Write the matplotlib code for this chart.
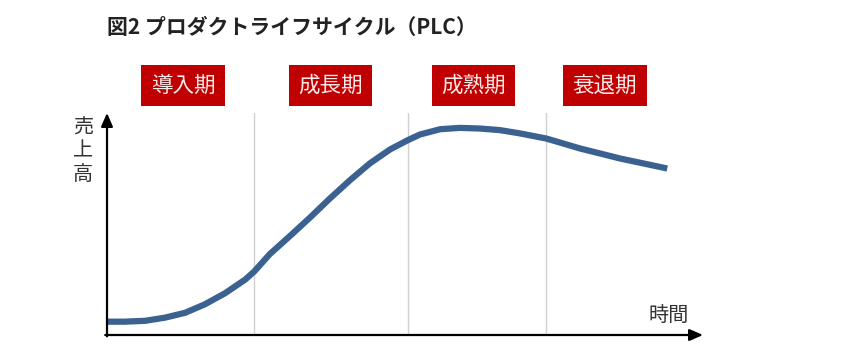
import numpy as np
import matplotlib.pyplot as plt

plt.rcParams['font.family'] = ['Noto Sans CJK JP', 'DejaVu Sans']

# Datos (tiempo 0-100, ventas 0-100)
tiempo = [0, 3.0, 6.4, 9.7, 13.1, 16.4, 19.8, 23.2, 24.7, 27.3, 30.7, 34.1, 37.4,
          40.8, 44.1, 47.5, 50.5, 52.5, 55.9, 59.2, 62.6, 65.9, 69.3, 73.7, 79.4,
          86.1, 94.0]
ventas = [6.0, 6.0, 6.4, 7.8, 10.0, 13.8, 18.8, 25.0, 28.6, 36.4, 44.6, 53.0, 61.5,
          69.8, 77.3, 83.6, 87.8, 90.3, 92.7, 93.3, 93.0, 92.3, 90.8, 88.5, 84.0,
          79.5, 75.0]

# Límites entre fases y etiquetas
limites = [24.7, 50.5, 73.7]
fases = ['導入期', '成長期', '成熟期', '衰退期']
centros_fase = [12.8, 37.5, 61.5, 83.5]

fig = plt.figure(figsize=(8.6, 3.56), dpi=100)
ax = fig.add_axes([107/860, 21/356, 596/860, 222/356])
ax.set_xlim(0, 100)
ax.set_ylim(0, 100)
ax.axis('off')

# Líneas verticales de separación
for xl in limites:
    ax.plot([xl, xl], [0, 100], color='#d0d0d0', lw=1, zorder=1)

# Curva del ciclo de vida
ax.plot(tiempo, ventas, color='#3a6190', lw=4.5, solid_capstyle='butt',
        solid_joinstyle='round', zorder=3)

# Ejes con flechas
flecha = dict(arrowstyle='-|>,head_length=0.8,head_width=0.35', color='black', lw=1.6,
              shrinkA=0, shrinkB=0)
ax.annotate('', xy=(100, 0), xytext=(-0.3, 0), arrowprops=flecha, annotation_clip=False)
ax.annotate('', xy=(0, 100), xytext=(0, -0.6), arrowprops=flecha, annotation_clip=False)

# Etiquetas de ejes
ax.text(-4, 98, '売\n上\n高', ha='center', va='top', fontsize=14.5, color='#333333',
        linespacing=1.15)
ax.text(94.3, 4, '時間', ha='center', va='bottom', fontsize=14.5, color='#333333')

# Etiquetas de fases (cajas rojas)
for cx, nombre in zip(centros_fase, fases):
    ax.text(cx, 112.3, nombre, ha='center', va='center', fontsize=15.5, color='#fbeaea',
            bbox=dict(boxstyle='square,pad=0.45', fc='#c00000', ec='none'), clip_on=False)

# Título
fig.text(107/860, 1 - 27/356, '図2 プロダクトライフサイクル（PLC）', ha='left', va='center',
         fontsize=15, fontweight='bold', color='#222222')

fig.savefig('out.png', dpi=100)
